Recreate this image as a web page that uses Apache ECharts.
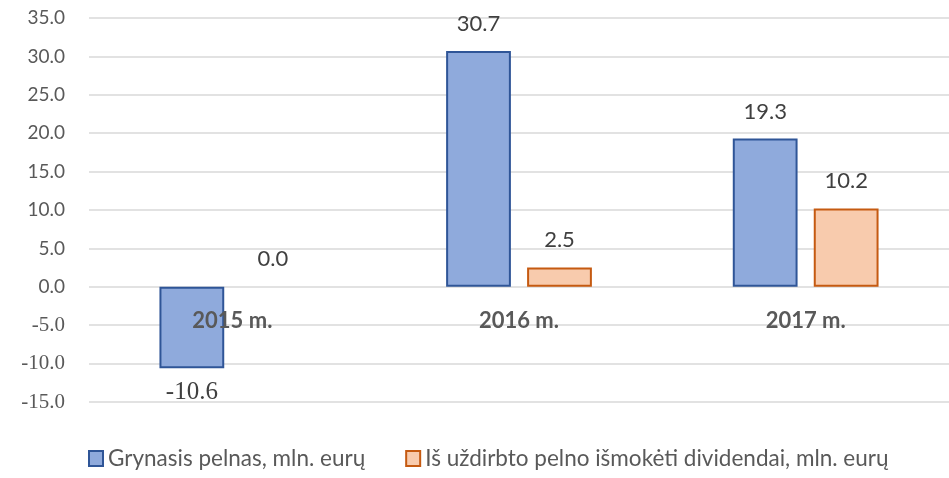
<!DOCTYPE html>
<html>
<head>
    <meta charset="utf-8">
    <title>Grynasis pelnas</title>
    <script src="https://cdn.jsdelivr.net/npm/echarts@6/dist/echarts.min.js"></script>
    <style>
        html, body { margin: 0; padding: 0; background: #fff; }
        #chart { width: 949px; height: 478px; }
    </style>
</head>
<body>
    <div id="chart"></div>
    <script>
        // duomenys
        var years = ['2015 m.', '2016 m.', '2017 m.'];
        var pelnas = [-10.6, 30.7, 19.3];
        var dividendai = [0.0, 2.5, 10.2];
        var seriesNames = ['Grynasis pelnas, mln. eurų', 'Iš uždirbto pelno išmokėti dividendai, mln. eurų'];

        var sans = 'Lato';
        var serif = 'Liberation Serif';

        // neigiamos reiksmes - etikete apacioje, nulinis stulpelis be remelio
        function toItems(arr) {
            return arr.map(function (v) {
                if (v < 0) {
                    return { value: v, label: { position: 'bottom', distance: 12, fontFamily: serif, fontSize: 25 } };
                }
                if (v === 0) {
                    return { value: v, itemStyle: { borderWidth: 0 } };
                }
                return v;
            });
        }

        var gridTop = 18, gridBottom = 76;
        var yMin = -15, yMax = 35;
        var plotH = 478 - gridTop - gridBottom;
        // kategoriju asis ties nuline linija
        var zeroOffset = -plotH * (0 - yMin) / (yMax - yMin);

        var myChart = echarts.init(document.getElementById('chart'));
        var option = {
            animation: false,
            grid: { left: 89, width: 864, top: gridTop, bottom: gridBottom },
            legend: {
                bottom: 3,
                left: 83,
                icon: 'rect',
                itemWidth: 14,
                itemHeight: 15,
                itemGap: 40,
                textStyle: { color: '#595959', fontSize: 22.5, fontFamily: sans },
                data: seriesNames
            },
            xAxis: {
                type: 'category',
                data: years,
                offset: zeroOffset,
                z: 10,
                axisLine: { show: false, onZero: false },
                axisTick: { show: false },
                axisLabel: {
                    margin: 23,
                    color: '#595959',
                    fontSize: 22,
                    fontWeight: 'bold',
                    fontFamily: sans
                }
            },
            yAxis: {
                type: 'value',
                min: yMin,
                max: yMax,
                interval: 5,
                axisLine: { show: false },
                axisTick: { show: false },
                splitLine: { lineStyle: { color: '#d9d9d9', width: 1.5 } },
                axisLabel: {
                    margin: 24,
                    formatter: function (v) {
                        var s = v.toFixed(1);
                        return v < 0 ? '{n|' + s + '}' : '{p|' + s + '}';
                    },
                    rich: {
                        p: { color: '#595959', fontSize: 19, fontFamily: sans },
                        n: { color: '#595959', fontSize: 21, fontFamily: serif }
                    }
                }
            },
            series: [
                {
                    name: seriesNames[0],
                    type: 'bar',
                    barWidth: '22.6%',
                    barGap: '25%',
                    data: toItems(pelnas),
                    itemStyle: { color: '#8faadc', borderColor: '#2f5597', borderWidth: 2 },
                    label: {
                        show: true,
                        position: 'top',
                        distance: 16,
                        formatter: function (p) { return p.value.toFixed(1); },
                        color: '#404040',
                        fontSize: 22,
                        fontFamily: sans
                    }
                },
                {
                    name: seriesNames[1],
                    type: 'bar',
                    barWidth: '22.6%',
                    data: toItems(dividendai),
                    itemStyle: { color: '#f8cbad', borderColor: '#c55a11', borderWidth: 2 },
                    label: {
                        show: true,
                        position: 'top',
                        distance: 17,
                        formatter: function (p) { return p.value.toFixed(1); },
                        color: '#404040',
                        fontSize: 22,
                        fontFamily: sans
                    }
                }
            ]
        };
        myChart.setOption(option);
    </script>
</body>
</html>
